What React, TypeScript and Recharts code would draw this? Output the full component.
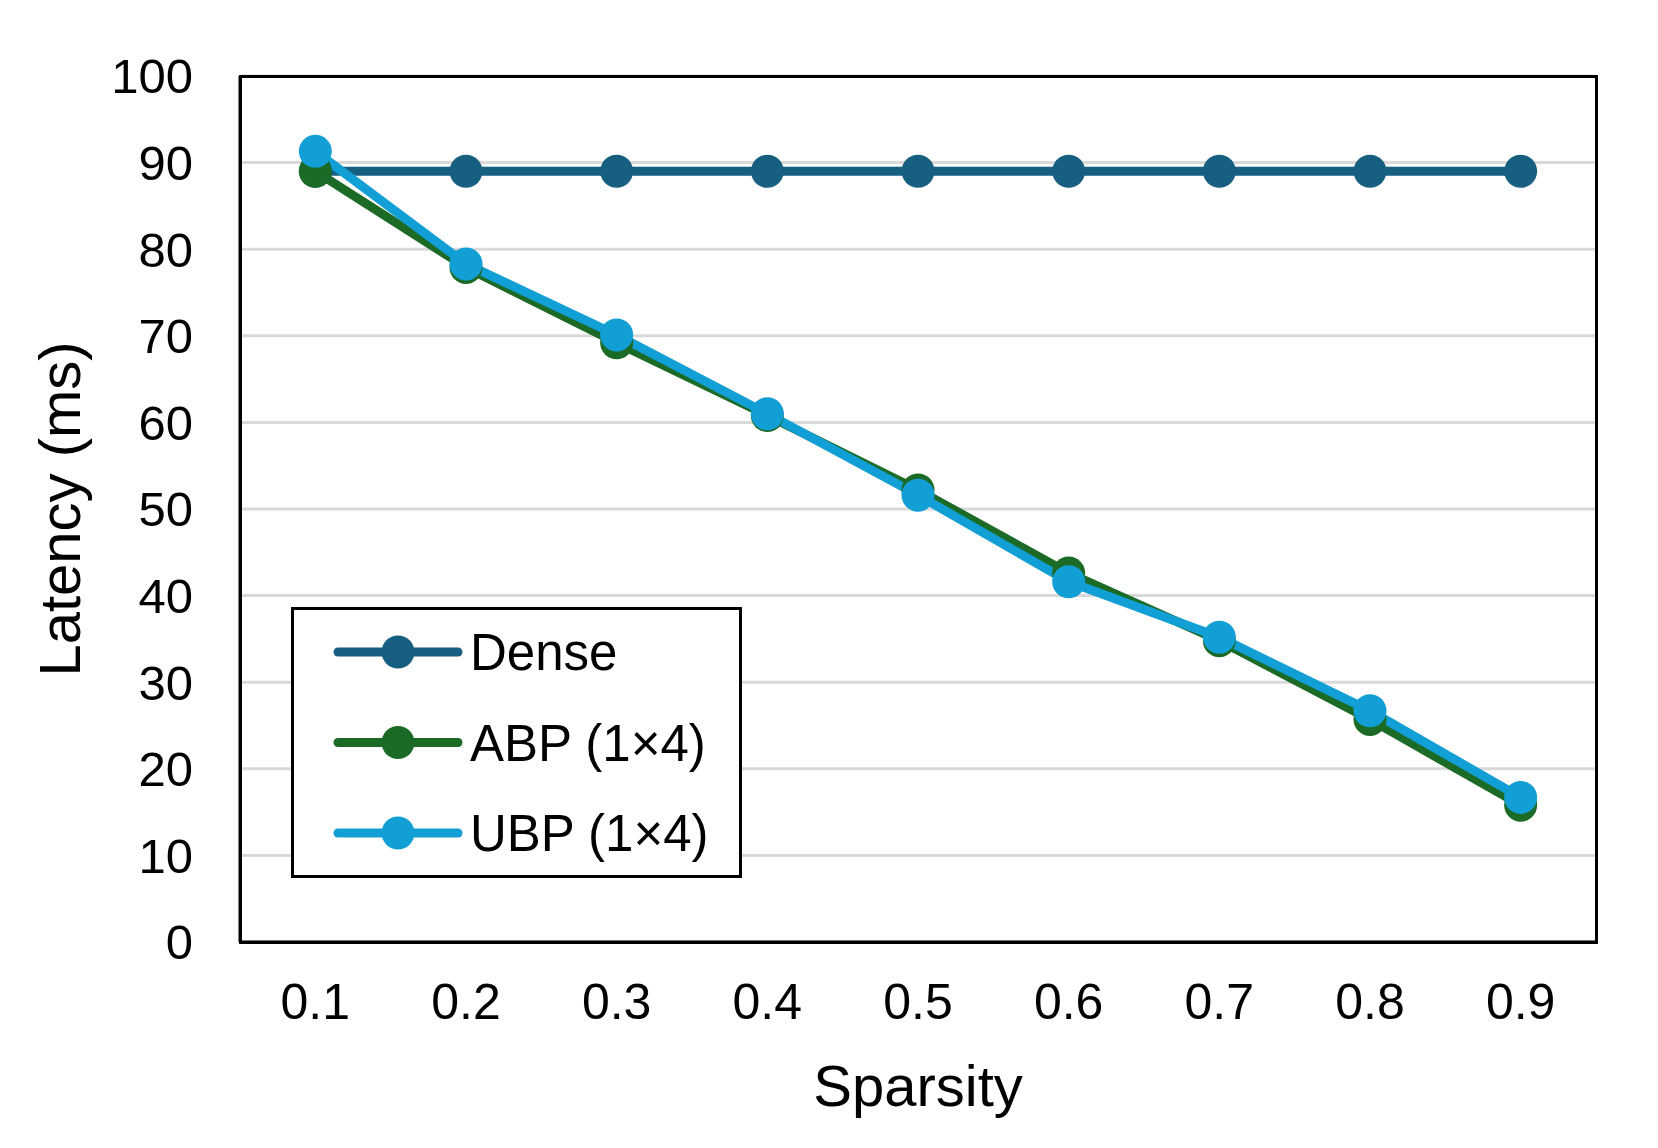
import React from 'react';
import { LineChart, Line, XAxis, YAxis, CartesianGrid, Legend, Label } from 'recharts';

const sparsity = ['0.1', '0.2', '0.3', '0.4', '0.5', '0.6', '0.7', '0.8', '0.9'];
const dense = [89, 89, 89, 89, 89, 89, 89, 89, 89];
const abp = [89.0, 77.9, 69.2, 60.8, 52.2, 42.6, 34.8, 25.7, 15.8];
const ubp = [91.3, 78.3, 70.1, 61.0, 51.6, 41.6, 35.2, 26.7, 16.7];
const yTicks = [0, 10, 20, 30, 40, 50, 60, 70, 80, 90, 100];

const seriesNames = ['Dense', 'ABP (1×4)', 'UBP (1×4)'];
const colors = ['#175f80', '#1b6b26', '#129fd6'];

const data = sparsity.map((s, i) => ({ x: s, dense: dense[i], abp: abp[i], ubp: ubp[i] }));

const FONT = '"Liberation Sans", Arial, Helvetica, sans-serif';

const LegendBox = () => {
  return (
    <svg width={445} height={265} style={{ display: 'block' }}>
      {seriesNames.map((name, i) => {
        const cy = 42 + i * 90.5;
        return (
          <g key={i}>
            <line x1={44} x2={164} y1={cy} y2={cy} stroke={colors[i]} strokeWidth={9} strokeLinecap="round" />
            <circle cx={104} cy={cy} r={16.5} fill={colors[i]} />
            <text x={176} y={cy} dy="0.355em" fontSize={51} fontFamily={FONT} fill="#000">
              {name}
            </text>
          </g>
        );
      })}
    </svg>
  );
};

export default function App() {
  return (
    <div style={{ position: 'absolute', left: 0, top: 0, width: 1658, height: 1148, background: '#fff' }}>
      <style>{`body{margin:0;background:#fff}`}</style>
      <LineChart
        width={1658}
        height={1148}
        data={data}
        margin={{ top: 76, right: 62, bottom: 30, left: 40 }}
        style={{ fontFamily: FONT }}
      >
        <CartesianGrid vertical={false} stroke="#d9d9d9" strokeWidth={3} />
        <XAxis
          dataKey="x"
          type="category"
          height={176}
          padding={{ left: 75.33, right: 75.33 }}
          axisLine={{ stroke: '#000', strokeWidth: 3 }}
          tickLine={false}
          tickSize={0}
          tickMargin={41}
          tick={{ fontSize: 50, fill: '#000', fontFamily: FONT }}
          interval={0}
        >
          <Label value="Sparsity" position="insideBottom" offset={12} style={{ fontSize: 58, fill: '#000', fontFamily: FONT }} />
        </XAxis>
        <YAxis
          domain={[0, 100]}
          ticks={yTicks}
          width={200}
          axisLine={{ stroke: '#000', strokeWidth: 3 }}
          tickLine={false}
          tickSize={0}
          tickMargin={47}
          tick={{ fontSize: 49, fill: '#000', fontFamily: FONT }}
          interval={0}
        >
          <Label
            value="Latency (ms)"
            angle={-90}
            position="insideLeft"
            offset={19}
            style={{ fontSize: 58, fill: '#000', fontFamily: FONT, textAnchor: 'middle' }}
          />
        </YAxis>
        <Legend
          layout="vertical"
          align="center"
          verticalAlign="middle"
          content={<LegendBox />}
          wrapperStyle={{
            left: 291,
            top: 607,
            width: 445,
            height: 265,
            border: '3px solid #000',
            background: '#fff',
            boxSizing: 'content-box',
          }}
        />
        <Line
          name={seriesNames[0]}
          dataKey="dense"
          stroke={colors[0]}
          strokeWidth={9}
          dot={{ r: 16.5, fill: colors[0], stroke: 'none' }}
          activeDot={false}
          isAnimationActive={false}
        />
        <Line
          name={seriesNames[1]}
          dataKey="abp"
          stroke={colors[1]}
          strokeWidth={9}
          dot={{ r: 16.5, fill: colors[1], stroke: 'none' }}
          activeDot={false}
          isAnimationActive={false}
        />
        <Line
          name={seriesNames[2]}
          dataKey="ubp"
          stroke={colors[2]}
          strokeWidth={9}
          dot={{ r: 16.5, fill: colors[2], stroke: 'none' }}
          activeDot={false}
          isAnimationActive={false}
        />
      </LineChart>
      <div
        style={{
          position: 'absolute',
          left: 238.5,
          top: 74.5,
          width: 1359,
          height: 869,
          border: '3px solid #000',
          pointerEvents: 'none',
          boxSizing: 'border-box',
        }}
      />
    </div>
  );
}
